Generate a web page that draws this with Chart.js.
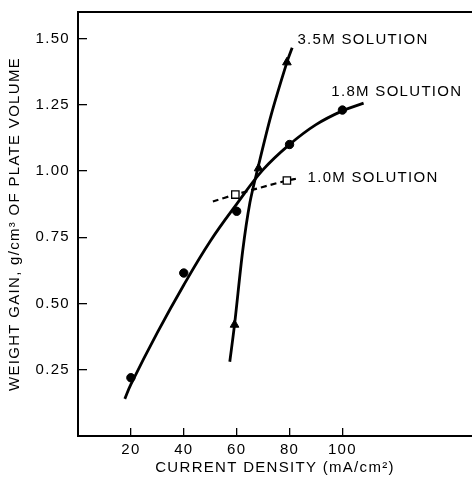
<!DOCTYPE html>
<html>
<head>
<meta charset="utf-8">
<script src="https://cdn.jsdelivr.net/npm/chart.js@4/dist/chart.umd.min.js"></script>
<style>
  html, body { margin: 0; padding: 0; background: #fff; overflow: hidden; }
  #wrap { width: 472px; height: 477px; }
  canvas { display: block; }
</style>
</head>
<body>
<div id="wrap"><canvas id="chart"></canvas></div>
<script>
// Axis ticks
const xTicks = [20, 40, 60, 80, 100];
const yTicks = [0.25, 0.50, 0.75, 1.00, 1.25, 1.50];

// 1.8M solution: measured points and fitted curve
const m18X = [20, 40, 60, 80, 100];
const m18Y = [0.22, 0.615, 0.848, 1.10, 1.23];
const m18CurveX = [17.7, 20, 30, 40, 50, 60, 70, 80, 90, 100, 108];
const m18CurveY = [0.14, 0.195, 0.39, 0.57, 0.735, 0.875, 1.005, 1.10, 1.175, 1.227, 1.256];

// 3.5M solution
const m35X = [59.2, 68.3, 79];
const m35Y = [0.42, 1.01, 1.41];
const m35CurveX = [57.4, 59.2, 62.3, 65, 68, 73, 79, 81];
const m35CurveY = [0.28, 0.42, 0.70, 0.88, 1.01, 1.21, 1.41, 1.465];

// 1.0M solution (dashed)
const m10X = [59.5, 79];
const m10Y = [0.911, 0.964];
const m10LineX = [51, 59.5, 79, 83];
const m10LineY = [0.885, 0.911, 0.964, 0.972];

// Curve labels, placed in data coordinates
const labelText = ['3.5M SOLUTION', '1.8M SOLUTION', '1.0M SOLUTION'];
const labelX = [83, 95.8, 86.8];
const labelY = [1.494, 1.30, 0.976];

const FONT = "'Liberation Sans', Arial, sans-serif";

function pts(xs, ys) {
  return xs.map((x, i) => ({ x: x, y: ys[i] }));
}

function noPad(s) {
  s.paddingLeft = 0;
  s.paddingRight = 0;
  s.paddingTop = 0;
  s.paddingBottom = 0;
}

// letter spacing like the typeset original
const spacing = {
  id: 'spacing',
  beforeLayout(chart) { chart.ctx.letterSpacing = '1.3px'; },
  beforeDraw(chart) { chart.ctx.letterSpacing = '1.3px'; }
};

// draw the curve labels next to each line
const curveLabels = {
  id: 'curveLabels',
  afterDatasetsDraw(chart) {
    const ctx = chart.ctx;
    const xs = chart.scales.x, ys = chart.scales.y;
    ctx.save();
    ctx.font = '15px ' + FONT;
    ctx.fillStyle = '#000';
    ctx.textAlign = 'left';
    ctx.textBaseline = 'middle';
    labelText.forEach((t, i) => {
      ctx.fillText(t, xs.getPixelForValue(labelX[i]), ys.getPixelForValue(labelY[i]));
    });
    ctx.restore();
  }
};

const ctx = document.getElementById('chart').getContext('2d');
new Chart(ctx, {
  type: 'scatter',
  data: {
    datasets: [
      {
        label: '1.8M points',
        data: pts(m18X, m18Y),
        pointStyle: 'circle',
        pointRadius: 4.2,
        backgroundColor: '#000',
        borderColor: '#000',
        order: 0
      },
      {
        label: '3.5M points',
        data: pts(m35X, m35Y),
        pointStyle: 'triangle',
        pointRadius: 5,
        backgroundColor: '#000',
        borderColor: '#000',
        order: 0
      },
      {
        label: '1.0M points',
        data: pts(m10X, m10Y),
        pointStyle: 'rect',
        pointRadius: 5.2,
        backgroundColor: '#fff',
        borderColor: '#000',
        pointBorderWidth: 1.3,
        order: 0
      },
      {
        label: '1.8M curve',
        data: pts(m18CurveX, m18CurveY),
        showLine: true,
        pointRadius: 0,
        borderColor: '#000',
        borderWidth: 2.8,
        tension: 0.4,
        order: 1
      },
      {
        label: '3.5M curve',
        data: pts(m35CurveX, m35CurveY),
        showLine: true,
        pointRadius: 0,
        borderColor: '#000',
        borderWidth: 2.8,
        tension: 0.3,
        order: 1
      },
      {
        label: '1.0M line',
        data: pts(m10LineX, m10LineY),
        showLine: true,
        pointRadius: 0,
        borderColor: '#000',
        borderWidth: 2.2,
        borderDash: [6, 4],
        tension: 0.3,
        order: 1
      }
    ]
  },
  options: {
    responsive: true,
    maintainAspectRatio: false,
    animation: false,
    layout: { autoPadding: false, padding: { top: 12, right: 0, left: 0, bottom: 0 } },
    plugins: {
      legend: { display: false },
      tooltip: { enabled: false }
    },
    scales: {
      x: {
        type: 'linear',
        position: 'bottom',
        min: 0,
        max: 149,
        afterBuildTicks: s => { s.ticks = xTicks.map(v => ({ value: v })); },
        afterFit: s => { s.height = 41; noPad(s); },
        ticks: {
          color: '#000',
          font: { family: FONT, size: 15 },
          padding: 13,
          maxRotation: 0
        },
        grid: {
          drawOnChartArea: false,
          drawTicks: true,
          tickLength: -8,
          color: '#000',
          lineWidth: 1.3
        },
        border: { color: '#000', width: 2 },
        title: {
          display: true,
          text: 'CURRENT DENSITY (mA/cm²)',
          color: '#000',
          font: { family: FONT, size: 15 },
          padding: { top: 0, bottom: 0 }
        }
      },
      xTop: {
        type: 'linear',
        position: 'top',
        min: 0,
        max: 149,
        afterFit: s => { s.height = 0; noPad(s); },
        ticks: { display: false },
        grid: { drawOnChartArea: false, drawTicks: false },
        border: { color: '#000', width: 2 }
      },
      y: {
        type: 'linear',
        position: 'left',
        min: 0,
        max: 1.6,
        afterBuildTicks: s => { s.ticks = yTicks.map(v => ({ value: v })); },
        afterFit: s => { s.width = 78; noPad(s); },
        ticks: {
          color: '#000',
          font: { family: FONT, size: 15 },
          padding: 17,
          callback: v => v.toFixed(2)
        },
        grid: {
          drawOnChartArea: false,
          drawTicks: true,
          tickLength: -9,
          color: '#000',
          lineWidth: 1.3
        },
        border: { color: '#000', width: 2 },
        title: {
          display: true,
          text: 'WEIGHT GAIN, g/cm³ OF PLATE VOLUME',
          color: '#000',
          font: { family: FONT, size: 15 },
          padding: { top: 6, bottom: 0 }
        }
      }
    }
  },
  plugins: [spacing, curveLabels]
});
</script>
</body>
</html>
